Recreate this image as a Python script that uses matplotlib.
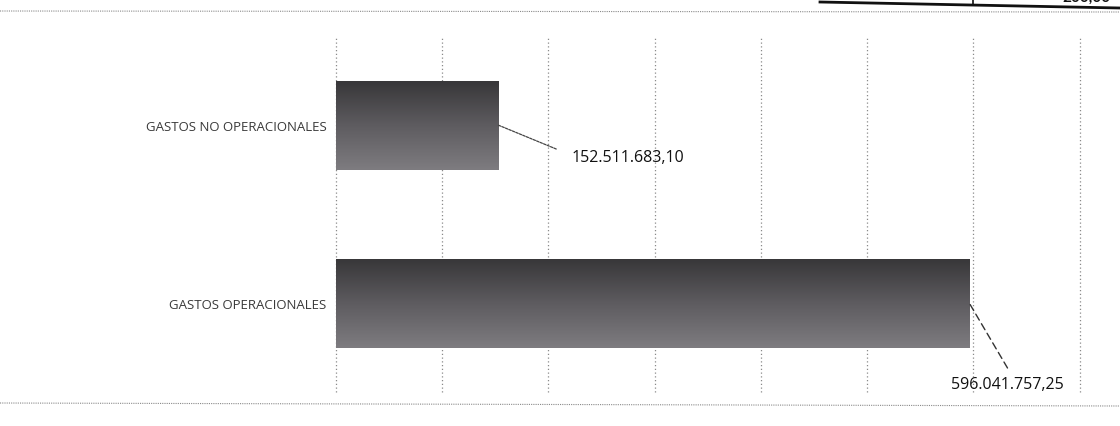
import numpy as np
import matplotlib
matplotlib.use("Agg")
import matplotlib.pyplot as plt
from matplotlib.lines import Line2D
from matplotlib.ticker import MultipleLocator

categories = ["GASTOS OPERACIONALES", "GASTOS NO OPERACIONALES"]
values = [596041757.25, 152511683.10]
value_labels = ["596.041.757,25", "152.511.683,10"]
x_max = 700e6
x_step = 100e6

fig = plt.figure(figsize=(11.2, 4.27), dpi=100)
ax = fig.add_axes([0.3, 0.0796, 0.664, 0.8337])

bars = ax.barh(range(len(categories)), values, height=0.5, color="#555555", zorder=2)
ax.set_xlim(0, x_max)
ax.set_ylim(-0.5, len(categories) - 0.5)

# gradient fill clipped to each bar
grad = np.linspace(0, 1, 256).reshape(-1, 1)
cmap = matplotlib.colors.LinearSegmentedColormap.from_list(
    "g", ["#7e7c80", "#5e5c60", "#383739"])
for b in bars:
    x0, y0, w, h = b.get_x(), b.get_y(), b.get_width(), b.get_height()
    im = ax.imshow(grad, extent=(x0, x0 + w, y0, y0 + h), origin="lower",
                   cmap=cmap, aspect="auto", zorder=3)
    im.set_clip_path(b)
    b.set_facecolor("none")
ax.set_aspect("auto")

ax.xaxis.set_major_locator(MultipleLocator(x_step))
ax.grid(axis="x", linestyle=(0, (1, 2)), color="#8a8a8a", linewidth=0.9, zorder=0)
for gl in ax.xaxis.get_gridlines():
    gl.set_clip_on(False)
ax.tick_params(axis="x", length=0, labelbottom=False)
ax.tick_params(axis="y", length=0, pad=7)
for s in ax.spines.values():
    s.set_visible(False)
ax.set_yticks(range(len(categories)))
ax.set_yticklabels(categories, fontfamily="Open Sans", fontsize=9.5, color="#3a3a3a")

# data labels with leader lines
ax.annotate(value_labels[1], xy=(values[1], 1), xytext=(222e6, 0.82),
            fontfamily="Open Sans", fontsize=11.5, color="#111111", va="center", ha="left",
            arrowprops=dict(arrowstyle="-", linestyle=(0, (2, 1)), color="#444444",
                            linewidth=0.9, shrinkA=10, shrinkB=0, relpos=(0, 0.6)))
ax.annotate(value_labels[0], xy=(values[0], 0), xytext=(579e6, -0.455),
            fontfamily="Open Sans", fontsize=11.5, color="#111111", va="center", ha="left",
            annotation_clip=False,
            arrowprops=dict(arrowstyle="-", linestyle=(0, (5, 3)), color="#333333",
                            linewidth=1.0, shrinkA=0, shrinkB=0,
                            relpos=(0.5, 1.5)))

# border dotted lines of the scanned chart area
fig.add_artist(Line2D([0.0, 1.0], [1 - 12 / 427, 1 - 13 / 427], transform=fig.transFigure,
                      linestyle=(0, (1, 1)), color="#8a8a8a", linewidth=0.8))
fig.add_artist(Line2D([0.0, 1.0], [1 - 404 / 427, 1 - 407 / 427], transform=fig.transFigure,
                      linestyle=(0, (1, 1)), color="#8a8a8a", linewidth=0.8))
# table fragment at top right
fig.add_artist(Line2D([820 / 1120, 1.0], [1 - 3 / 427, 1 - 9 / 427], transform=fig.transFigure,
                      color="#111111", linewidth=2))
fig.add_artist(Line2D([973 / 1120, 973 / 1120], [1.0, 1 - 5 / 427], transform=fig.transFigure,
                      color="#111111", linewidth=1.2))
fig.text(1062 / 1120, 1 + 2 / 427, "200,00", fontfamily="Lato", fontsize=11,
         fontweight="bold", color="#111111", va="center", ha="left")

fig.savefig("out.png", dpi=100, facecolor="white")
